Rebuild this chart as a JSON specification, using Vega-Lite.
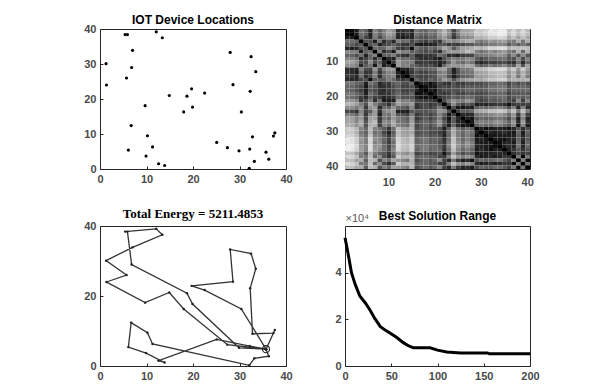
{
"$schema":"https://vega.github.io/schema/vega-lite/v6.json",
"background":"white",
"padding":{"left":83,"top":13,"right":5,"bottom":5},
"bounds":"flush",
"columns":2,
"spacing":{"row":57,"column":59},
"config":{
"view":{"stroke":"#262626","strokeWidth":1},
"axis":{"domain":false,"grid":false,"ticks":true,"tickSize":-3,"tickColor":"#262626","labelFont":"Liberation Sans","labelFontSize":11,"labelFontWeight":"bold","labelColor":"#4a4a4a","labelPadding":7,"labelFlush":false,"labelOverlap":false},
"title":{"font":"Liberation Sans","fontSize":12,"fontWeight":"bold","color":"#000000","offset":5,"frame":"group"}
},
"datasets":{
"pts":[{"x":5.4,"y":38.4},{"x":5.9,"y":38.4},{"x":7.0,"y":33.9},{"x":28.0,"y":33.3},{"x":14.9,"y":21.0},{"x":12.1,"y":39.2},{"x":32.5,"y":32.1},{"x":9.7,"y":18.1},{"x":28.6,"y":24.1},{"x":30.4,"y":16.3},{"x":33.5,"y":27.8},{"x":1.3,"y":30.1},{"x":6.8,"y":29.0},{"x":5.7,"y":26.0},{"x":13.4,"y":37.5},{"x":18.0,"y":16.3},{"x":18.7,"y":20.8},{"x":19.7,"y":22.9},{"x":19.9,"y":17.7},{"x":22.5,"y":21.7},{"x":32.3,"y":22.2},{"x":25.1,"y":7.6},{"x":10.2,"y":9.5},{"x":1.4,"y":24.0},{"x":6.7,"y":12.4},{"x":11.3,"y":6.3},{"x":6.1,"y":5.4},{"x":9.9,"y":3.7},{"x":29.9,"y":5.2},{"x":32.8,"y":9.2},{"x":32.2,"y":5.7},{"x":33.2,"y":2.2},{"x":35.7,"y":4.8},{"x":36.3,"y":2.8},{"x":32.1,"y":0.2},{"x":27.4,"y":6.1},{"x":37.3,"y":9.4},{"x":12.6,"y":1.5},{"x":37.6,"y":10.3},{"x":13.9,"y":1.0}],
"route":[
{"l":1,"s":0,"x":35.7,"y":4.8},{"l":1,"s":1,"x":30.4,"y":16.3},{"l":1,"s":2,"x":22.5,"y":21.7},{"l":1,"s":3,"x":19.7,"y":22.9},{"l":1,"s":4,"x":28.6,"y":24.1},{"l":1,"s":5,"x":28.0,"y":33.3},{"l":1,"s":6,"x":32.5,"y":32.1},{"l":1,"s":7,"x":33.5,"y":27.8},{"l":1,"s":8,"x":32.3,"y":22.2},{"l":1,"s":9,"x":32.8,"y":9.2},{"l":1,"s":10,"x":37.3,"y":9.4},{"l":1,"s":11,"x":37.6,"y":10.3},{"l":1,"s":12,"x":35.7,"y":4.8},
{"l":2,"s":0,"x":35.7,"y":4.8},{"l":2,"s":1,"x":36.3,"y":2.8},{"l":2,"s":2,"x":33.2,"y":2.2},{"l":2,"s":3,"x":32.1,"y":0.2},{"l":2,"s":4,"x":11.3,"y":6.3},{"l":2,"s":5,"x":10.2,"y":9.5},{"l":2,"s":6,"x":6.7,"y":12.4},{"l":2,"s":7,"x":6.1,"y":5.4},{"l":2,"s":8,"x":9.9,"y":3.7},{"l":2,"s":9,"x":13.9,"y":1.0},{"l":2,"s":10,"x":12.6,"y":1.5},{"l":2,"s":11,"x":25.1,"y":7.6},{"l":2,"s":12,"x":32.2,"y":5.7},{"l":2,"s":13,"x":35.7,"y":4.8},
{"l":3,"s":0,"x":35.7,"y":4.8},{"l":3,"s":1,"x":29.9,"y":5.2},{"l":3,"s":2,"x":19.9,"y":17.7},{"l":3,"s":3,"x":18.7,"y":20.8},{"l":3,"s":4,"x":6.8,"y":29.0},{"l":3,"s":5,"x":5.9,"y":38.4},{"l":3,"s":6,"x":5.4,"y":38.4},{"l":3,"s":7,"x":12.1,"y":39.2},{"l":3,"s":8,"x":13.4,"y":37.5},{"l":3,"s":9,"x":7.0,"y":33.9},{"l":3,"s":10,"x":1.3,"y":30.1},{"l":3,"s":11,"x":5.7,"y":26.0},{"l":3,"s":12,"x":1.4,"y":24.0},{"l":3,"s":13,"x":9.7,"y":18.1},{"l":3,"s":14,"x":14.9,"y":21.0},{"l":3,"s":15,"x":18.0,"y":16.3},{"l":3,"s":16,"x":27.4,"y":6.1},{"l":3,"s":17,"x":35.7,"y":4.8}],
"conv":[{"it":0,"v":55000},{"it":2,"v":51000},{"it":5,"v":44500},{"it":7,"v":40000},{"it":11,"v":35000},{"it":16,"v":30000},{"it":22,"v":27000},{"it":27,"v":24000},{"it":32,"v":20500},{"it":38,"v":17000},{"it":43,"v":15500},{"it":49,"v":14000},{"it":56,"v":12200},{"it":63,"v":10000},{"it":69,"v":8600},{"it":74,"v":7800},{"it":92,"v":7800},{"it":100,"v":6800},{"it":110,"v":6000},{"it":125,"v":5600},{"it":154,"v":5600},{"it":156,"v":5211},{"it":200,"v":5211}],
"dm":[
{"a":1,"b":1,"d":0},{"a":1,"b":2,"d":1},{"a":1,"b":3,"d":5},{"a":1,"b":4,"d":23},{"a":1,"b":5,"d":20},{"a":1,"b":6,"d":7},{"a":1,"b":7,"d":28},{"a":1,"b":8,"d":21},{"a":1,"b":9,"d":27},{"a":1,"b":10,"d":33},{"a":1,"b":11,"d":30},{"a":1,"b":12,"d":9},{"a":1,"b":13,"d":10},{"a":1,"b":14,"d":12},{"a":1,"b":15,"d":8},{"a":1,"b":16,"d":25},{"a":1,"b":17,"d":22},{"a":1,"b":18,"d":21},{"a":1,"b":19,"d":25},{"a":1,"b":20,"d":24},{"a":1,"b":21,"d":31},{"a":1,"b":22,"d":37},{"a":1,"b":23,"d":29},{"a":1,"b":24,"d":15},{"a":1,"b":25,"d":26},{"a":1,"b":26,"d":33},{"a":1,"b":27,"d":33},{"a":1,"b":28,"d":35},{"a":1,"b":29,"d":41},{"a":1,"b":30,"d":40},{"a":1,"b":31,"d":42},{"a":1,"b":32,"d":46},{"a":1,"b":33,"d":45},{"a":1,"b":34,"d":47},{"a":1,"b":35,"d":47},{"a":1,"b":36,"d":39},{"a":1,"b":37,"d":43},{"a":1,"b":38,"d":38},{"a":1,"b":39,"d":43},{"a":1,"b":40,"d":38},
{"a":2,"b":2,"d":0},{"a":2,"b":3,"d":5},{"a":2,"b":4,"d":23},{"a":2,"b":5,"d":20},{"a":2,"b":6,"d":6},{"a":2,"b":7,"d":27},{"a":2,"b":8,"d":21},{"a":2,"b":9,"d":27},{"a":2,"b":10,"d":33},{"a":2,"b":11,"d":30},{"a":2,"b":12,"d":9},{"a":2,"b":13,"d":9},{"a":2,"b":14,"d":12},{"a":2,"b":15,"d":8},{"a":2,"b":16,"d":25},{"a":2,"b":17,"d":22},{"a":2,"b":18,"d":21},{"a":2,"b":19,"d":25},{"a":2,"b":20,"d":23},{"a":2,"b":21,"d":31},{"a":2,"b":22,"d":36},{"a":2,"b":23,"d":29},{"a":2,"b":24,"d":15},{"a":2,"b":25,"d":26},{"a":2,"b":26,"d":33},{"a":2,"b":27,"d":33},{"a":2,"b":28,"d":35},{"a":2,"b":29,"d":41},{"a":2,"b":30,"d":40},{"a":2,"b":31,"d":42},{"a":2,"b":32,"d":45},{"a":2,"b":33,"d":45},{"a":2,"b":34,"d":47},{"a":2,"b":35,"d":46},{"a":2,"b":36,"d":39},{"a":2,"b":37,"d":43},{"a":2,"b":38,"d":38},{"a":2,"b":39,"d":42},{"a":2,"b":40,"d":38},
{"a":3,"b":3,"d":0},{"a":3,"b":4,"d":21},{"a":3,"b":5,"d":15},{"a":3,"b":6,"d":7},{"a":3,"b":7,"d":26},{"a":3,"b":8,"d":16},{"a":3,"b":9,"d":24},{"a":3,"b":10,"d":29},{"a":3,"b":11,"d":27},{"a":3,"b":12,"d":7},{"a":3,"b":13,"d":5},{"a":3,"b":14,"d":8},{"a":3,"b":15,"d":7},{"a":3,"b":16,"d":21},{"a":3,"b":17,"d":18},{"a":3,"b":18,"d":17},{"a":3,"b":19,"d":21},{"a":3,"b":20,"d":20},{"a":3,"b":21,"d":28},{"a":3,"b":22,"d":32},{"a":3,"b":23,"d":25},{"a":3,"b":24,"d":11},{"a":3,"b":25,"d":21},{"a":3,"b":26,"d":28},{"a":3,"b":27,"d":28},{"a":3,"b":28,"d":30},{"a":3,"b":29,"d":37},{"a":3,"b":30,"d":36},{"a":3,"b":31,"d":38},{"a":3,"b":32,"d":41},{"a":3,"b":33,"d":41},{"a":3,"b":34,"d":43},{"a":3,"b":35,"d":42},{"a":3,"b":36,"d":34},{"a":3,"b":37,"d":39},{"a":3,"b":38,"d":33},{"a":3,"b":39,"d":39},{"a":3,"b":40,"d":34},
{"a":4,"b":4,"d":0},{"a":4,"b":5,"d":18},{"a":4,"b":6,"d":17},{"a":4,"b":7,"d":5},{"a":4,"b":8,"d":24},{"a":4,"b":9,"d":9},{"a":4,"b":10,"d":17},{"a":4,"b":11,"d":8},{"a":4,"b":12,"d":27},{"a":4,"b":13,"d":22},{"a":4,"b":14,"d":23},{"a":4,"b":15,"d":15},{"a":4,"b":16,"d":20},{"a":4,"b":17,"d":16},{"a":4,"b":18,"d":13},{"a":4,"b":19,"d":18},{"a":4,"b":20,"d":13},{"a":4,"b":21,"d":12},{"a":4,"b":22,"d":26},{"a":4,"b":23,"d":30},{"a":4,"b":24,"d":28},{"a":4,"b":25,"d":30},{"a":4,"b":26,"d":32},{"a":4,"b":27,"d":35},{"a":4,"b":28,"d":35},{"a":4,"b":29,"d":28},{"a":4,"b":30,"d":25},{"a":4,"b":31,"d":28},{"a":4,"b":32,"d":32},{"a":4,"b":33,"d":30},{"a":4,"b":34,"d":32},{"a":4,"b":35,"d":33},{"a":4,"b":36,"d":27},{"a":4,"b":37,"d":26},{"a":4,"b":38,"d":35},{"a":4,"b":39,"d":25},{"a":4,"b":40,"d":35},
{"a":5,"b":5,"d":0},{"a":5,"b":6,"d":18},{"a":5,"b":7,"d":21},{"a":5,"b":8,"d":6},{"a":5,"b":9,"d":14},{"a":5,"b":10,"d":16},{"a":5,"b":11,"d":20},{"a":5,"b":12,"d":16},{"a":5,"b":13,"d":11},{"a":5,"b":14,"d":10},{"a":5,"b":15,"d":17},{"a":5,"b":16,"d":6},{"a":5,"b":17,"d":4},{"a":5,"b":18,"d":5},{"a":5,"b":19,"d":6},{"a":5,"b":20,"d":8},{"a":5,"b":21,"d":17},{"a":5,"b":22,"d":17},{"a":5,"b":23,"d":12},{"a":5,"b":24,"d":14},{"a":5,"b":25,"d":12},{"a":5,"b":26,"d":15},{"a":5,"b":27,"d":18},{"a":5,"b":28,"d":18},{"a":5,"b":29,"d":22},{"a":5,"b":30,"d":21},{"a":5,"b":31,"d":23},{"a":5,"b":32,"d":26},{"a":5,"b":33,"d":26},{"a":5,"b":34,"d":28},{"a":5,"b":35,"d":27},{"a":5,"b":36,"d":19},{"a":5,"b":37,"d":25},{"a":5,"b":38,"d":20},{"a":5,"b":39,"d":25},{"a":5,"b":40,"d":20},
{"a":6,"b":6,"d":0},{"a":6,"b":7,"d":22},{"a":6,"b":8,"d":21},{"a":6,"b":9,"d":22},{"a":6,"b":10,"d":29},{"a":6,"b":11,"d":24},{"a":6,"b":12,"d":14},{"a":6,"b":13,"d":11},{"a":6,"b":14,"d":15},{"a":6,"b":15,"d":2},{"a":6,"b":16,"d":24},{"a":6,"b":17,"d":20},{"a":6,"b":18,"d":18},{"a":6,"b":19,"d":23},{"a":6,"b":20,"d":20},{"a":6,"b":21,"d":26},{"a":6,"b":22,"d":34},{"a":6,"b":23,"d":30},{"a":6,"b":24,"d":19},{"a":6,"b":25,"d":27},{"a":6,"b":26,"d":33},{"a":6,"b":27,"d":34},{"a":6,"b":28,"d":36},{"a":6,"b":29,"d":38},{"a":6,"b":30,"d":36},{"a":6,"b":31,"d":39},{"a":6,"b":32,"d":43},{"a":6,"b":33,"d":42},{"a":6,"b":34,"d":44},{"a":6,"b":35,"d":44},{"a":6,"b":36,"d":36},{"a":6,"b":37,"d":39},{"a":6,"b":38,"d":38},{"a":6,"b":39,"d":39},{"a":6,"b":40,"d":38},
{"a":7,"b":7,"d":0},{"a":7,"b":8,"d":27},{"a":7,"b":9,"d":9},{"a":7,"b":10,"d":16},{"a":7,"b":11,"d":4},{"a":7,"b":12,"d":31},{"a":7,"b":13,"d":26},{"a":7,"b":14,"d":27},{"a":7,"b":15,"d":20},{"a":7,"b":16,"d":21},{"a":7,"b":17,"d":18},{"a":7,"b":18,"d":16},{"a":7,"b":19,"d":19},{"a":7,"b":20,"d":14},{"a":7,"b":21,"d":10},{"a":7,"b":22,"d":26},{"a":7,"b":23,"d":32},{"a":7,"b":24,"d":32},{"a":7,"b":25,"d":32},{"a":7,"b":26,"d":33},{"a":7,"b":27,"d":38},{"a":7,"b":28,"d":36},{"a":7,"b":29,"d":27},{"a":7,"b":30,"d":23},{"a":7,"b":31,"d":26},{"a":7,"b":32,"d":30},{"a":7,"b":33,"d":27},{"a":7,"b":34,"d":30},{"a":7,"b":35,"d":32},{"a":7,"b":36,"d":26},{"a":7,"b":37,"d":23},{"a":7,"b":38,"d":36},{"a":7,"b":39,"d":22},{"a":7,"b":40,"d":36},
{"a":8,"b":8,"d":0},{"a":8,"b":9,"d":20},{"a":8,"b":10,"d":21},{"a":8,"b":11,"d":26},{"a":8,"b":12,"d":15},{"a":8,"b":13,"d":11},{"a":8,"b":14,"d":9},{"a":8,"b":15,"d":20},{"a":8,"b":16,"d":8},{"a":8,"b":17,"d":9},{"a":8,"b":18,"d":11},{"a":8,"b":19,"d":10},{"a":8,"b":20,"d":13},{"a":8,"b":21,"d":23},{"a":8,"b":22,"d":19},{"a":8,"b":23,"d":9},{"a":8,"b":24,"d":10},{"a":8,"b":25,"d":6},{"a":8,"b":26,"d":12},{"a":8,"b":27,"d":13},{"a":8,"b":28,"d":14},{"a":8,"b":29,"d":24},{"a":8,"b":30,"d":25},{"a":8,"b":31,"d":26},{"a":8,"b":32,"d":28},{"a":8,"b":33,"d":29},{"a":8,"b":34,"d":31},{"a":8,"b":35,"d":29},{"a":8,"b":36,"d":21},{"a":8,"b":37,"d":29},{"a":8,"b":38,"d":17},{"a":8,"b":39,"d":29},{"a":8,"b":40,"d":18},
{"a":9,"b":9,"d":0},{"a":9,"b":10,"d":8},{"a":9,"b":11,"d":6},{"a":9,"b":12,"d":28},{"a":9,"b":13,"d":22},{"a":9,"b":14,"d":23},{"a":9,"b":15,"d":20},{"a":9,"b":16,"d":13},{"a":9,"b":17,"d":10},{"a":9,"b":18,"d":9},{"a":9,"b":19,"d":11},{"a":9,"b":20,"d":7},{"a":9,"b":21,"d":4},{"a":9,"b":22,"d":17},{"a":9,"b":23,"d":23},{"a":9,"b":24,"d":27},{"a":9,"b":25,"d":25},{"a":9,"b":26,"d":25},{"a":9,"b":27,"d":29},{"a":9,"b":28,"d":28},{"a":9,"b":29,"d":19},{"a":9,"b":30,"d":15},{"a":9,"b":31,"d":19},{"a":9,"b":32,"d":22},{"a":9,"b":33,"d":21},{"a":9,"b":34,"d":23},{"a":9,"b":35,"d":24},{"a":9,"b":36,"d":18},{"a":9,"b":37,"d":17},{"a":9,"b":38,"d":28},{"a":9,"b":39,"d":16},{"a":9,"b":40,"d":27},
{"a":10,"b":10,"d":0},{"a":10,"b":11,"d":12},{"a":10,"b":12,"d":32},{"a":10,"b":13,"d":27},{"a":10,"b":14,"d":26},{"a":10,"b":15,"d":27},{"a":10,"b":16,"d":12},{"a":10,"b":17,"d":12},{"a":10,"b":18,"d":13},{"a":10,"b":19,"d":11},{"a":10,"b":20,"d":10},{"a":10,"b":21,"d":6},{"a":10,"b":22,"d":10},{"a":10,"b":23,"d":21},{"a":10,"b":24,"d":30},{"a":10,"b":25,"d":24},{"a":10,"b":26,"d":22},{"a":10,"b":27,"d":27},{"a":10,"b":28,"d":24},{"a":10,"b":29,"d":11},{"a":10,"b":30,"d":7},{"a":10,"b":31,"d":11},{"a":10,"b":32,"d":14},{"a":10,"b":33,"d":13},{"a":10,"b":34,"d":15},{"a":10,"b":35,"d":16},{"a":10,"b":36,"d":11},{"a":10,"b":37,"d":10},{"a":10,"b":38,"d":23},{"a":10,"b":39,"d":9},{"a":10,"b":40,"d":22},
{"a":11,"b":11,"d":0},{"a":11,"b":12,"d":32},{"a":11,"b":13,"d":27},{"a":11,"b":14,"d":28},{"a":11,"b":15,"d":22},{"a":11,"b":16,"d":19},{"a":11,"b":17,"d":16},{"a":11,"b":18,"d":15},{"a":11,"b":19,"d":17},{"a":11,"b":20,"d":13},{"a":11,"b":21,"d":6},{"a":11,"b":22,"d":22},{"a":11,"b":23,"d":30},{"a":11,"b":24,"d":32},{"a":11,"b":25,"d":31},{"a":11,"b":26,"d":31},{"a":11,"b":27,"d":35},{"a":11,"b":28,"d":34},{"a":11,"b":29,"d":23},{"a":11,"b":30,"d":19},{"a":11,"b":31,"d":22},{"a":11,"b":32,"d":26},{"a":11,"b":33,"d":23},{"a":11,"b":34,"d":25},{"a":11,"b":35,"d":28},{"a":11,"b":36,"d":22},{"a":11,"b":37,"d":19},{"a":11,"b":38,"d":34},{"a":11,"b":39,"d":18},{"a":11,"b":40,"d":33},
{"a":12,"b":12,"d":0},{"a":12,"b":13,"d":6},{"a":12,"b":14,"d":6},{"a":12,"b":15,"d":14},{"a":12,"b":16,"d":22},{"a":12,"b":17,"d":20},{"a":12,"b":18,"d":20},{"a":12,"b":19,"d":22},{"a":12,"b":20,"d":23},{"a":12,"b":21,"d":32},{"a":12,"b":22,"d":33},{"a":12,"b":23,"d":22},{"a":12,"b":24,"d":6},{"a":12,"b":25,"d":18},{"a":12,"b":26,"d":26},{"a":12,"b":27,"d":25},{"a":12,"b":28,"d":28},{"a":12,"b":29,"d":38},{"a":12,"b":30,"d":38},{"a":12,"b":31,"d":39},{"a":12,"b":32,"d":42},{"a":12,"b":33,"d":43},{"a":12,"b":34,"d":44},{"a":12,"b":35,"d":43},{"a":12,"b":36,"d":35},{"a":12,"b":37,"d":41},{"a":12,"b":38,"d":31},{"a":12,"b":39,"d":41},{"a":12,"b":40,"d":32},
{"a":13,"b":13,"d":0},{"a":13,"b":14,"d":3},{"a":13,"b":15,"d":11},{"a":13,"b":16,"d":17},{"a":13,"b":17,"d":14},{"a":13,"b":18,"d":14},{"a":13,"b":19,"d":17},{"a":13,"b":20,"d":17},{"a":13,"b":21,"d":26},{"a":13,"b":22,"d":28},{"a":13,"b":23,"d":20},{"a":13,"b":24,"d":7},{"a":13,"b":25,"d":17},{"a":13,"b":26,"d":23},{"a":13,"b":27,"d":24},{"a":13,"b":28,"d":25},{"a":13,"b":29,"d":33},{"a":13,"b":30,"d":33},{"a":13,"b":31,"d":34},{"a":13,"b":32,"d":38},{"a":13,"b":33,"d":38},{"a":13,"b":34,"d":39},{"a":13,"b":35,"d":38},{"a":13,"b":36,"d":31},{"a":13,"b":37,"d":36},{"a":13,"b":38,"d":28},{"a":13,"b":39,"d":36},{"a":13,"b":40,"d":29},
{"a":14,"b":14,"d":0},{"a":14,"b":15,"d":14},{"a":14,"b":16,"d":16},{"a":14,"b":17,"d":14},{"a":14,"b":18,"d":14},{"a":14,"b":19,"d":16},{"a":14,"b":20,"d":17},{"a":14,"b":21,"d":27},{"a":14,"b":22,"d":27},{"a":14,"b":23,"d":17},{"a":14,"b":24,"d":5},{"a":14,"b":25,"d":14},{"a":14,"b":26,"d":20},{"a":14,"b":27,"d":21},{"a":14,"b":28,"d":23},{"a":14,"b":29,"d":32},{"a":14,"b":30,"d":32},{"a":14,"b":31,"d":33},{"a":14,"b":32,"d":36},{"a":14,"b":33,"d":37},{"a":14,"b":34,"d":38},{"a":14,"b":35,"d":37},{"a":14,"b":36,"d":29},{"a":14,"b":37,"d":36},{"a":14,"b":38,"d":25},{"a":14,"b":39,"d":36},{"a":14,"b":40,"d":26},
{"a":15,"b":15,"d":0},{"a":15,"b":16,"d":22},{"a":15,"b":17,"d":17},{"a":15,"b":18,"d":16},{"a":15,"b":19,"d":21},{"a":15,"b":20,"d":18},{"a":15,"b":21,"d":24},{"a":15,"b":22,"d":32},{"a":15,"b":23,"d":28},{"a":15,"b":24,"d":18},{"a":15,"b":25,"d":26},{"a":15,"b":26,"d":31},{"a":15,"b":27,"d":33},{"a":15,"b":28,"d":34},{"a":15,"b":29,"d":36},{"a":15,"b":30,"d":34},{"a":15,"b":31,"d":37},{"a":15,"b":32,"d":40},{"a":15,"b":33,"d":40},{"a":15,"b":34,"d":42},{"a":15,"b":35,"d":42},{"a":15,"b":36,"d":34},{"a":15,"b":37,"d":37},{"a":15,"b":38,"d":36},{"a":15,"b":39,"d":36},{"a":15,"b":40,"d":37},
{"a":16,"b":16,"d":0},{"a":16,"b":17,"d":5},{"a":16,"b":18,"d":7},{"a":16,"b":19,"d":2},{"a":16,"b":20,"d":7},{"a":16,"b":21,"d":15},{"a":16,"b":22,"d":11},{"a":16,"b":23,"d":10},{"a":16,"b":24,"d":18},{"a":16,"b":25,"d":12},{"a":16,"b":26,"d":12},{"a":16,"b":27,"d":16},{"a":16,"b":28,"d":15},{"a":16,"b":29,"d":16},{"a":16,"b":30,"d":16},{"a":16,"b":31,"d":18},{"a":16,"b":32,"d":21},{"a":16,"b":33,"d":21},{"a":16,"b":34,"d":23},{"a":16,"b":35,"d":21},{"a":16,"b":36,"d":14},{"a":16,"b":37,"d":20},{"a":16,"b":38,"d":16},{"a":16,"b":39,"d":20},{"a":16,"b":40,"d":16},
{"a":17,"b":17,"d":0},{"a":17,"b":18,"d":2},{"a":17,"b":19,"d":3},{"a":17,"b":20,"d":4},{"a":17,"b":21,"d":14},{"a":17,"b":22,"d":15},{"a":17,"b":23,"d":14},{"a":17,"b":24,"d":18},{"a":17,"b":25,"d":15},{"a":17,"b":26,"d":16},{"a":17,"b":27,"d":20},{"a":17,"b":28,"d":19},{"a":17,"b":29,"d":19},{"a":17,"b":30,"d":18},{"a":17,"b":31,"d":20},{"a":17,"b":32,"d":24},{"a":17,"b":33,"d":23},{"a":17,"b":34,"d":25},{"a":17,"b":35,"d":25},{"a":17,"b":36,"d":17},{"a":17,"b":37,"d":22},{"a":17,"b":38,"d":20},{"a":17,"b":39,"d":22},{"a":17,"b":40,"d":20},
{"a":18,"b":18,"d":0},{"a":18,"b":19,"d":5},{"a":18,"b":20,"d":3},{"a":18,"b":21,"d":13},{"a":18,"b":22,"d":16},{"a":18,"b":23,"d":16},{"a":18,"b":24,"d":18},{"a":18,"b":25,"d":17},{"a":18,"b":26,"d":19},{"a":18,"b":27,"d":22},{"a":18,"b":28,"d":22},{"a":18,"b":29,"d":20},{"a":18,"b":30,"d":19},{"a":18,"b":31,"d":21},{"a":18,"b":32,"d":25},{"a":18,"b":33,"d":24},{"a":18,"b":34,"d":26},{"a":18,"b":35,"d":26},{"a":18,"b":36,"d":18},{"a":18,"b":37,"d":22},{"a":18,"b":38,"d":22},{"a":18,"b":39,"d":22},{"a":18,"b":40,"d":23},
{"a":19,"b":19,"d":0},{"a":19,"b":20,"d":5},{"a":19,"b":21,"d":13},{"a":19,"b":22,"d":11},{"a":19,"b":23,"d":13},{"a":19,"b":24,"d":19},{"a":19,"b":25,"d":14},{"a":19,"b":26,"d":14},{"a":19,"b":27,"d":18},{"a":19,"b":28,"d":17},{"a":19,"b":29,"d":16},{"a":19,"b":30,"d":15},{"a":19,"b":31,"d":17},{"a":19,"b":32,"d":20},{"a":19,"b":33,"d":20},{"a":19,"b":34,"d":22},{"a":19,"b":35,"d":21},{"a":19,"b":36,"d":14},{"a":19,"b":37,"d":19},{"a":19,"b":38,"d":18},{"a":19,"b":39,"d":19},{"a":19,"b":40,"d":18},
{"a":20,"b":20,"d":0},{"a":20,"b":21,"d":10},{"a":20,"b":22,"d":14},{"a":20,"b":23,"d":17},{"a":20,"b":24,"d":21},{"a":20,"b":25,"d":18},{"a":20,"b":26,"d":19},{"a":20,"b":27,"d":23},{"a":20,"b":28,"d":22},{"a":20,"b":29,"d":18},{"a":20,"b":30,"d":16},{"a":20,"b":31,"d":19},{"a":20,"b":32,"d":22},{"a":20,"b":33,"d":21},{"a":20,"b":34,"d":23},{"a":20,"b":35,"d":23},{"a":20,"b":36,"d":16},{"a":20,"b":37,"d":19},{"a":20,"b":38,"d":22},{"a":20,"b":39,"d":19},{"a":20,"b":40,"d":22},
{"a":21,"b":21,"d":0},{"a":21,"b":22,"d":16},{"a":21,"b":23,"d":25},{"a":21,"b":24,"d":31},{"a":21,"b":25,"d":27},{"a":21,"b":26,"d":26},{"a":21,"b":27,"d":31},{"a":21,"b":28,"d":29},{"a":21,"b":29,"d":17},{"a":21,"b":30,"d":13},{"a":21,"b":31,"d":16},{"a":21,"b":32,"d":20},{"a":21,"b":33,"d":18},{"a":21,"b":34,"d":20},{"a":21,"b":35,"d":22},{"a":21,"b":36,"d":17},{"a":21,"b":37,"d":14},{"a":21,"b":38,"d":29},{"a":21,"b":39,"d":13},{"a":21,"b":40,"d":28},
{"a":22,"b":22,"d":0},{"a":22,"b":23,"d":15},{"a":22,"b":24,"d":29},{"a":22,"b":25,"d":19},{"a":22,"b":26,"d":14},{"a":22,"b":27,"d":19},{"a":22,"b":28,"d":16},{"a":22,"b":29,"d":5},{"a":22,"b":30,"d":8},{"a":22,"b":31,"d":7},{"a":22,"b":32,"d":10},{"a":22,"b":33,"d":11},{"a":22,"b":34,"d":12},{"a":22,"b":35,"d":10},{"a":22,"b":36,"d":3},{"a":22,"b":37,"d":12},{"a":22,"b":38,"d":14},{"a":22,"b":39,"d":13},{"a":22,"b":40,"d":13},
{"a":23,"b":23,"d":0},{"a":23,"b":24,"d":17},{"a":23,"b":25,"d":4},{"a":23,"b":26,"d":3},{"a":23,"b":27,"d":6},{"a":23,"b":28,"d":6},{"a":23,"b":29,"d":20},{"a":23,"b":30,"d":23},{"a":23,"b":31,"d":22},{"a":23,"b":32,"d":24},{"a":23,"b":33,"d":26},{"a":23,"b":34,"d":27},{"a":23,"b":35,"d":24},{"a":23,"b":36,"d":17},{"a":23,"b":37,"d":27},{"a":23,"b":38,"d":8},{"a":23,"b":39,"d":27},{"a":23,"b":40,"d":9},
{"a":24,"b":24,"d":0},{"a":24,"b":25,"d":13},{"a":24,"b":26,"d":20},{"a":24,"b":27,"d":19},{"a":24,"b":28,"d":22},{"a":24,"b":29,"d":34},{"a":24,"b":30,"d":35},{"a":24,"b":31,"d":36},{"a":24,"b":32,"d":39},{"a":24,"b":33,"d":39},{"a":24,"b":34,"d":41},{"a":24,"b":35,"d":39},{"a":24,"b":36,"d":32},{"a":24,"b":37,"d":39},{"a":24,"b":38,"d":25},{"a":24,"b":39,"d":39},{"a":24,"b":40,"d":26},
{"a":25,"b":25,"d":0},{"a":25,"b":26,"d":8},{"a":25,"b":27,"d":7},{"a":25,"b":28,"d":9},{"a":25,"b":29,"d":24},{"a":25,"b":30,"d":26},{"a":25,"b":31,"d":26},{"a":25,"b":32,"d":28},{"a":25,"b":33,"d":30},{"a":25,"b":34,"d":31},{"a":25,"b":35,"d":28},{"a":25,"b":36,"d":22},{"a":25,"b":37,"d":31},{"a":25,"b":38,"d":12},{"a":25,"b":39,"d":31},{"a":25,"b":40,"d":13},
{"a":26,"b":26,"d":0},{"a":26,"b":27,"d":5},{"a":26,"b":28,"d":3},{"a":26,"b":29,"d":19},{"a":26,"b":30,"d":22},{"a":26,"b":31,"d":21},{"a":26,"b":32,"d":22},{"a":26,"b":33,"d":24},{"a":26,"b":34,"d":25},{"a":26,"b":35,"d":22},{"a":26,"b":36,"d":16},{"a":26,"b":37,"d":26},{"a":26,"b":38,"d":5},{"a":26,"b":39,"d":27},{"a":26,"b":40,"d":6},
{"a":27,"b":27,"d":0},{"a":27,"b":28,"d":4},{"a":27,"b":29,"d":24},{"a":27,"b":30,"d":27},{"a":27,"b":31,"d":26},{"a":27,"b":32,"d":27},{"a":27,"b":33,"d":30},{"a":27,"b":34,"d":30},{"a":27,"b":35,"d":26},{"a":27,"b":36,"d":21},{"a":27,"b":37,"d":31},{"a":27,"b":38,"d":8},{"a":27,"b":39,"d":32},{"a":27,"b":40,"d":9},
{"a":28,"b":28,"d":0},{"a":28,"b":29,"d":20},{"a":28,"b":30,"d":24},{"a":28,"b":31,"d":22},{"a":28,"b":32,"d":23},{"a":28,"b":33,"d":26},{"a":28,"b":34,"d":26},{"a":28,"b":35,"d":22},{"a":28,"b":36,"d":18},{"a":28,"b":37,"d":28},{"a":28,"b":38,"d":3},{"a":28,"b":39,"d":28},{"a":28,"b":40,"d":5},
{"a":29,"b":29,"d":0},{"a":29,"b":30,"d":5},{"a":29,"b":31,"d":2},{"a":29,"b":32,"d":4},{"a":29,"b":33,"d":6},{"a":29,"b":34,"d":7},{"a":29,"b":35,"d":5},{"a":29,"b":36,"d":3},{"a":29,"b":37,"d":8},{"a":29,"b":38,"d":18},{"a":29,"b":39,"d":9},{"a":29,"b":40,"d":16},
{"a":30,"b":30,"d":0},{"a":30,"b":31,"d":4},{"a":30,"b":32,"d":7},{"a":30,"b":33,"d":5},{"a":30,"b":34,"d":7},{"a":30,"b":35,"d":9},{"a":30,"b":36,"d":6},{"a":30,"b":37,"d":4},{"a":30,"b":38,"d":22},{"a":30,"b":39,"d":5},{"a":30,"b":40,"d":21},
{"a":31,"b":31,"d":0},{"a":31,"b":32,"d":4},{"a":31,"b":33,"d":4},{"a":31,"b":34,"d":5},{"a":31,"b":35,"d":5},{"a":31,"b":36,"d":5},{"a":31,"b":37,"d":6},{"a":31,"b":38,"d":20},{"a":31,"b":39,"d":7},{"a":31,"b":40,"d":19},
{"a":32,"b":32,"d":0},{"a":32,"b":33,"d":4},{"a":32,"b":34,"d":3},{"a":32,"b":35,"d":2},{"a":32,"b":36,"d":7},{"a":32,"b":37,"d":8},{"a":32,"b":38,"d":21},{"a":32,"b":39,"d":9},{"a":32,"b":40,"d":19},
{"a":33,"b":33,"d":0},{"a":33,"b":34,"d":2},{"a":33,"b":35,"d":6},{"a":33,"b":36,"d":8},{"a":33,"b":37,"d":5},{"a":33,"b":38,"d":23},{"a":33,"b":39,"d":6},{"a":33,"b":40,"d":22},
{"a":34,"b":34,"d":0},{"a":34,"b":35,"d":5},{"a":34,"b":36,"d":9},{"a":34,"b":37,"d":7},{"a":34,"b":38,"d":24},{"a":34,"b":39,"d":8},{"a":34,"b":40,"d":22},
{"a":35,"b":35,"d":0},{"a":35,"b":36,"d":7},{"a":35,"b":37,"d":11},{"a":35,"b":38,"d":19},{"a":35,"b":39,"d":11},{"a":35,"b":40,"d":18},
{"a":36,"b":36,"d":0},{"a":36,"b":37,"d":10},{"a":36,"b":38,"d":15},{"a":36,"b":39,"d":11},{"a":36,"b":40,"d":14},
{"a":37,"b":37,"d":0},{"a":37,"b":38,"d":26},{"a":37,"b":39,"d":1},{"a":37,"b":40,"d":25},
{"a":38,"b":38,"d":0},{"a":38,"b":39,"d":26},{"a":38,"b":40,"d":1},
{"a":39,"b":39,"d":0},{"a":39,"b":40,"d":25},
{"a":40,"b":40,"d":0}
]
},
"concat":[
{"width":186,"height":140,"title":{"text":"IOT Device Locations","offset":-4},"data":{"name":"pts"},
"mark":{"type":"circle","size":10,"color":"#000000","opacity":1},
"encoding":{
"x":{"field":"x","type":"quantitative","scale":{"domain":[0,40],"nice":false},"axis":{"values":[0,10,20,30,40],"title":null}},
"y":{"field":"y","type":"quantitative","scale":{"domain":[0,40],"nice":false},"axis":{"values":[0,10,20,30,40],"title":null}}}},
{"width":185,"height":140,"title":{"text":"Distance Matrix","offset":2},"data":{"name":"dm"},
"layer":[
{"mark":{"type":"rect","strokeWidth":0},"encoding":{
"x":{"field":"a","type":"ordinal","scale":{"paddingInner":0,"paddingOuter":0},"axis":{"values":[10,20,30,40],"labelAngle":0,"ticks":false,"title":null}},
"y":{"field":"b","type":"ordinal","scale":{"paddingInner":0,"paddingOuter":0},"axis":{"values":[10,20,30,40],"ticks":false,"title":null}},
"color":{"field":"d","type":"quantitative","scale":{"domain":[0,48],"range":["#000000","#f4f4f4"]},"legend":null}}},
{"mark":{"type":"rect","strokeWidth":0},"encoding":{
"x":{"field":"b","type":"ordinal"},
"y":{"field":"a","type":"ordinal"},
"color":{"field":"d","type":"quantitative","legend":null}}}
]},
{"width":186,"height":140,"title":{"text":"Total Energy = 5211.4853","font":"Liberation Serif","fontSize":13,"offset":-1},
"layer":[
{"data":{"name":"route"},"mark":{"type":"line","color":"#333333","strokeWidth":1.3},
"encoding":{
"x":{"field":"x","type":"quantitative","scale":{"domain":[0,40],"nice":false},"axis":{"values":[0,10,20,30,40],"title":null}},
"y":{"field":"y","type":"quantitative","scale":{"domain":[0,40],"nice":false},"axis":{"values":[0,10,20,30,40],"title":null}},
"detail":{"field":"l","type":"nominal"},
"order":{"field":"s","type":"quantitative"}}},
{"data":{"name":"route"},"mark":{"type":"circle","size":6,"color":"#222222","opacity":1},
"encoding":{"x":{"field":"x","type":"quantitative"},"y":{"field":"y","type":"quantitative"}}},
{"data":{"values":[{"x":35.7,"y":4.8}]},"mark":{"type":"point","size":50,"color":"#222222","strokeWidth":1.2,"opacity":1},
"encoding":{"x":{"field":"x","type":"quantitative"},"y":{"field":"y","type":"quantitative"}}}
]},
{"width":185,"height":140,"title":{"text":"Best Solution Range","offset":-11},"data":{"name":"conv"},
"mark":{"type":"line","color":"#000000","strokeWidth":3},
"encoding":{
"x":{"field":"it","type":"quantitative","scale":{"domain":[0,200],"nice":false},"axis":{"values":[0,50,100,150,200],"title":null}},
"y":{"field":"v","type":"quantitative","scale":{"domain":[0,60000],"nice":false},"axis":{"values":[0,20000,40000],"labelExpr":"datum.value/10000","title":"×10⁴","titleAngle":0,"titleAlign":"left","titleBaseline":"bottom","titleX":0,"titleY":-3,"titleFont":"Liberation Sans","titleFontSize":11,"titleFontWeight":"normal","titleColor":"#555555"}}}}
]
}
